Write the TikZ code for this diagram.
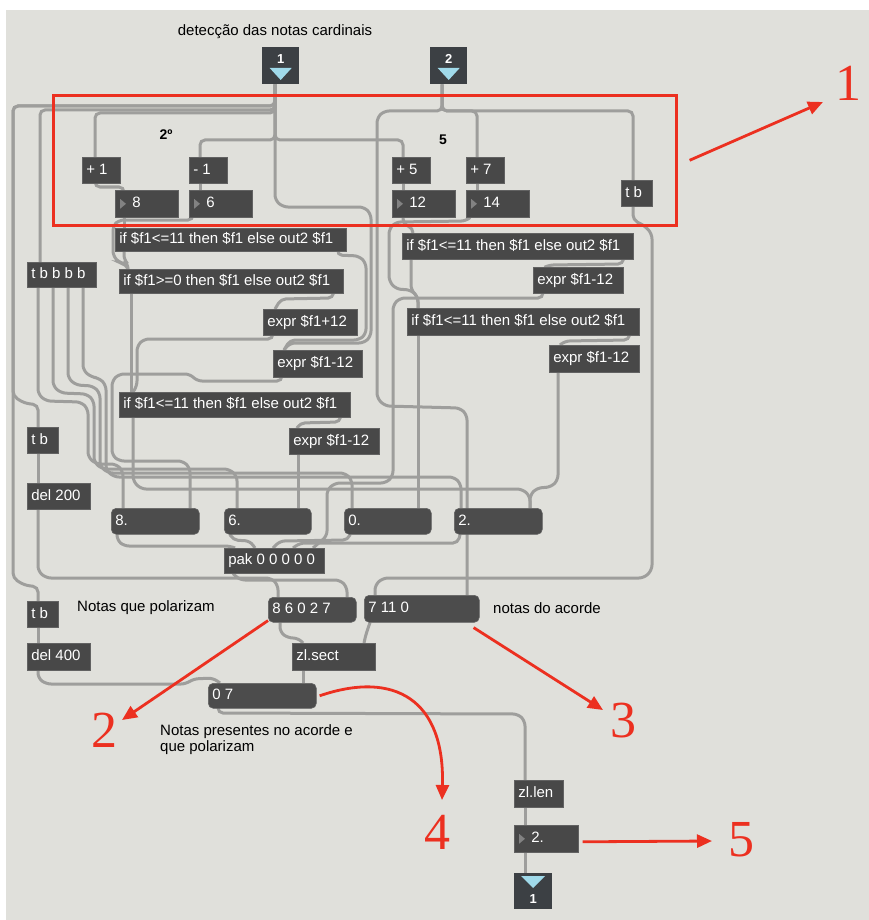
\documentclass[tikz,border=0pt]{standalone}
\usepackage{fontspec}
\setmainfont{Liberation Sans}
\newfontfamily\redserif{Liberation Serif}
\usetikzlibrary{arrows.meta}
\pgfdeclarelayer{back}
\pgfdeclarelayer{wires}
\pgfsetlayers{back,wires,main}
\definecolor{bgc}{RGB}{224,224,219}
\definecolor{cordc}{RGB}{158,158,156}
\definecolor{objc}{RGB}{72,72,72}
\definecolor{msgc}{RGB}{76,76,76}
\definecolor{edgec}{RGB}{98,98,98}
\definecolor{ioc}{RGB}{60,64,68}
\definecolor{redc}{RGB}{236,48,32}
\definecolor{triac}{RGB}{160,218,234}
\definecolor{numtri}{RGB}{130,130,130}
\newcommand\boxfont{\fontsize{15}{17}\selectfont}
\newcommand\lblfont{\fontsize{15}{16.5}\selectfont}
\newcommand\rednumfont{\redserif\fontsize{52}{52}\selectfont}
\tikzset{
  cord/.style={draw=cordc, line width=3pt, rounded corners=5pt},
  objbox/.style={anchor=north west, fill=objc, draw=edgec, line width=0.6pt, text=white,
    font=\boxfont, inner xsep=4pt, inner ysep=0pt, text height=10.5pt, text depth=3pt},
  msgbox/.style={objbox, rounded corners=5pt, fill=msgc},
  numbox/.style={objbox},
  iobox/.style={anchor=north west, fill=ioc, inner sep=0pt},
  iotext/.style={font=\bfseries\fontsize{13}{13}\selectfont, text=white, inner sep=0pt},
  lbl/.style={font=\lblfont, text=black, inner sep=0pt},
  rednum/.style={font=\rednumfont, text=redc, inner sep=0pt},
  redarrow/.style={draw=redc, line width=2.8pt, -{Triangle[length=15pt,width=13pt]}},
}
\newcommand\mxo[7][objbox]{%
  \pgfmathsetmacro\mxw{#5-#3}%
  \pgfmathsetmacro\mxh{#6-#4}%
  \pgfmathsetmacro\mxt{#5-#3-8}%
  \node[#1, minimum width=\mxw pt, minimum height=\mxh pt] (#2) at (#3,#4) {\makebox[\mxt pt][l]{#7}};%
}
\newcommand\mtri[1]{\fill[numtri] ([shift={(5pt,5pt)}]#1.west) -- ([shift={(5pt,-5pt)}]#1.west) -- ([shift={(11pt,0pt)}]#1.west) -- cycle;}
\begin{document}
\begin{tikzpicture}[x=1pt,y=-1pt]
\useasboundingbox (0,0) rectangle (869,920);
\begin{pgfonlayer}{back}
\fill[white] (0,0) rectangle (869,920);
\fill[bgc] (6,10) rectangle (869,920);
\end{pgfonlayer}

% inlets / outlet
\node[iobox, minimum width=37pt, minimum height=37pt] (in1) at (262,47) {};
\node[iotext] (in1n) at ([yshift=-12pt]in1.north) {1};
\fill[triac] ([shift={(-11pt,-21pt)}]in1.north) -- ([shift={(11pt,-21pt)}]in1.north) -- ([shift={(0pt,-33pt)}]in1.north) -- cycle;
\node[iobox, minimum width=37pt, minimum height=37pt] (in2) at (430,47) {};
\node[iotext] (in2n) at ([yshift=-12pt]in2.north) {2};
\fill[triac] ([shift={(-11pt,-21pt)}]in2.north) -- ([shift={(11pt,-21pt)}]in2.north) -- ([shift={(0pt,-33pt)}]in2.north) -- cycle;
\node[iobox, minimum width=38pt, minimum height=36pt] (out1) at (514,873) {};
\fill[triac] ([shift={(-12pt,-3pt)}]out1.north) -- ([shift={(12pt,-3pt)}]out1.north) -- ([shift={(0pt,-15pt)}]out1.north) -- cycle;
\node[iotext] (out1n) at ([yshift=-26pt]out1.north) {1};

% objects
\mxo{plus1}{82}{157}{120}{183}{+ 1}
\mxo{minus1}{189}{157}{227}{183}{- 1}
\mxo{plus5}{392}{157}{430}{183}{+ 5}
\mxo{plus7}{466}{157}{504}{183}{+ 7}
\mxo{tbR}{621}{180}{652}{206}{t b}
\mxo[numbox]{n8}{115}{190}{178}{217}{\hspace*{13pt}8}
\mxo[numbox]{n6}{189}{190}{252}{217}{\hspace*{13pt}6}
\mxo[numbox]{n12}{392}{190}{455}{217}{\hspace*{13pt}12}
\mxo[numbox]{n14}{466}{190}{529}{217}{\hspace*{13pt}14}
\mxo{ifA}{115}{228}{346}{251}{if \$f1<=11 then \$f1 else out2 \$f1}
\mxo{ifB}{119}{269}{343}{293}{if \$f1>=0 then \$f1 else out2 \$f1}
\mxo{tbbbb}{27}{262}{96}{287}{t b b b b}
\mxo{ifC}{402}{233}{633}{259}{if \$f1<=11 then \$f1 else out2 \$f1}
\mxo{exprC}{533}{267}{623}{293}{expr \$f1-12}
\mxo{ifD}{407}{308}{639}{335}{if \$f1<=11 then \$f1 else out2 \$f1}
\mxo{exprD}{549}{345}{639}{372}{expr \$f1-12}
\mxo{exprP}{263}{309}{357}{335}{expr \$f1+12}
\mxo{exprA}{273}{350}{362}{377}{expr \$f1-12}
\mxo{ifE}{119}{392}{350}{417}{if \$f1<=11 then \$f1 else out2 \$f1}
\mxo{exprB}{289}{428}{379}{454}{expr \$f1-12}
\mxo{tbL1}{27}{427}{58}{453}{t b}
\mxo{del200}{27}{483}{90}{509}{del 200}
\mxo[msgbox]{m8}{111}{508}{199}{534}{8.}
\mxo[msgbox]{m6}{224}{508}{311}{534}{6.}
\mxo[msgbox]{m0}{344}{508}{431}{534}{0.}
\mxo[msgbox]{m2}{454}{508}{542}{534}{2.}
\mxo{pak}{224}{548}{324}{573}{pak 0 0 0 0 0}
\mxo{tbL2}{27}{601}{58}{627}{t b}
\mxo{del400}{27}{643}{90}{670}{del 400}
\mxo[msgbox]{msgA}{268}{597}{356}{622}{8 6 0 2 7}
\mxo[msgbox]{msgB}{364}{595}{479}{622}{7 11 0}
\mxo{zlsect}{292}{643}{375}{670}{zl.sect}
\mxo[msgbox]{m07}{208}{683}{316}{708}{0 7}
\mxo{zllen}{514}{780}{563}{807}{zl.len}
\mxo[numbox]{n2}{514}{825}{578}{852}{\hspace*{13pt}2.}
\mtri{n8}\mtri{n6}\mtri{n12}\mtri{n14}\mtri{n2}

\begin{pgfonlayer}{wires}
% from inlet 1
\draw[cord] ([xshift=13pt]in1.south west) -- (275,106) -- (13,106) -- (13,396) -- (24,403) -- (38,405) -- ([xshift=11pt]tbL1.north west);
\draw[cord] ([xshift=13pt]in1.south west) -- (275,106) -- (13,106) -- (13,578) -- (24,585) -- (38,587) -- ([xshift=11pt]tbL2.north west);
\draw[cord] ([xshift=13pt]in1.south west) -- (275,110) -- (40,110) -- ([xshift=13pt]tbbbb.north west);
\draw[cord] ([xshift=13pt]in1.south west) -- (275,113) -- (95,113) -- ([xshift=13pt]plus1.north west);
\draw[cord] ([xshift=13pt]in1.south west) -- (275,140) -- (200,140) -- ([xshift=11pt]minus1.north west);
\draw[cord] ([xshift=13pt]in1.south west) -- (275,140) -- (403,140) -- ([xshift=11pt]plus5.north west);
\draw[cord] ([xshift=13pt]in1.south west) -- (275,200) -- (283,207) -- (364,207) -- (371,214) -- (371,336) -- (364,343) -- (290,343) -- ([xshift=11pt]exprA.north west);
% from inlet 2
\draw[cord] ([xshift=12pt]in2.south west) -- (442,111) -- (477,111) -- ([xshift=11pt]plus7.north west);
\draw[cord] ([xshift=12pt]in2.south west) -- (442,111) -- (633,111) -- ([xshift=12pt]tbR.north west);
\draw[cord] ([xshift=12pt]in2.south west) -- (442,111) -- (384,111) -- (377,118) -- (377,398) -- (385,406) -- (460,408) -- (467,415) -- ([xshift=103pt]msgB.north west);
\draw[cord] ([xshift=12pt]tbR.south west) -- (633,220) -- (645,226) -- (652,234) -- (652,570) -- (644,578) -- (383,578) -- (375,585) -- ([xshift=11pt]msgB.north west);
% adders to number boxes
\draw[cord] ([xshift=13pt]plus1.south west) -- (95,187) -- (124,187) -- ([xshift=9pt]n8.north west);
\draw[cord] ([xshift=11pt]minus1.south west) -- ([xshift=11pt]n6.north west);
\draw[cord] ([xshift=11pt]plus5.south west) -- ([xshift=11pt]n12.north west);
\draw[cord] ([xshift=11pt]plus7.south west) -- ([xshift=11pt]n14.north west);
% left chains
\draw[cord] ([xshift=9pt]n8.south west) -- ([xshift=9pt]ifA.north west);
\draw[cord] ([xshift=4pt]n6.south west) -- (193,220) -- (119,220) -- (113,226) -- (113,256) -- (120,263) -- (126,264) -- ([xshift=9pt]ifB.north west);
\draw[cord] ([xshift=9pt]ifA.south west) -- (124,260) -- (128,264) -- ([xshift=9pt]ifB.north west);
\draw[cord] ([xshift=-9pt]ifA.south east) -- (337,255) -- (359,256) -- (366,263) -- (366,334) -- (359,340) -- (290,340) -- ([xshift=11pt]exprA.north west);
\draw[cord] ([xshift=-10pt]ifB.south east) -- (333,298) -- (281,299) -- ([xshift=12pt]exprP.north west);
\draw[cord] ([xshift=12pt]ifB.south west) -- ([xshift=12pt]ifE.north west);
\draw[cord] ([xshift=10pt]exprP.south west) -- (273,339) -- (144,339) -- (137,346) -- (137,386) -- ([xshift=14pt]ifE.north west);
\draw[cord] ([xshift=9pt]exprA.south west) -- (282,381) -- (197,381) -- (190,374) -- (119,374) -- (112,381) -- (112,455) -- (119,461) -- (183,461) -- (190,468) -- ([xshift=79pt]m8.north west);
\draw[cord] ([xshift=-10pt]ifE.south east) -- (340,422) -- (300,423) -- ([xshift=8pt]exprB.north west);
\draw[cord] ([xshift=14pt]ifE.south west) -- (133,481) -- (141,489) -- (522,489) -- (530,496) -- ([xshift=76pt]m2.north west);
\draw[cord] ([xshift=9pt]exprB.south west) -- ([xshift=74pt]m6.north west);
% right chains
\draw[cord] ([xshift=11pt]n12.south west) -- (403,224) -- (413,228) -- ([xshift=11pt]ifC.north west);
\draw[cord] ([xshift=4pt]n14.south west) -- (466,221) -- (396,222) -- (389,229) -- (389,281) -- (396,289) -- (411,290) -- (418,297) -- ([xshift=11pt]ifD.north west);
\draw[cord] ([xshift=9pt]ifC.south west) -- (411,290) -- (418,297) -- ([xshift=11pt]ifD.north west);
\draw[cord] ([xshift=-10pt]ifC.south east) -- (623,264) -- (549,265) -- ([xshift=12pt]exprC.north west);
\draw[cord] ([xshift=10pt]exprC.south west) -- (543,298) -- (400,298) -- (393,305) -- (393,476) -- (386,483) -- (335,483) -- (327,490) -- (327,536) -- (320,542) -- ([xshift=89pt]pak.north west);
\draw[cord] ([xshift=11pt]ifD.south west) -- ([xshift=74pt]m0.north west);
\draw[cord] ([xshift=-10pt]ifD.south east) -- (629,340) -- (565,341) -- ([xshift=11pt]exprD.north west);
\draw[cord] ([xshift=9pt]exprD.south west) -- (558,480) -- (551,487) -- (537,488) -- (530,495) -- ([xshift=76pt]m2.north west);
% trigger to message boxes
\draw[cord] ([xshift=11pt]tbbbb.south west) -- (38,394) -- (46,401) -- (81,402) -- (88,409) -- (88,457) -- (96,464) -- (116,464) -- (123,471) -- ([xshift=12pt]m8.north west);
\draw[cord] ([xshift=26pt]tbbbb.south west) -- (53,386) -- (61,393) -- (87,394) -- (94,401) -- (94,462) -- (102,469) -- (229,469) -- (237,476) -- ([xshift=13pt]m6.north west);
\draw[cord] ([xshift=41pt]tbbbb.south west) -- (68,378) -- (76,385) -- (93,386) -- (100,393) -- (100,466) -- (108,473) -- (345,473) -- (352,480) -- ([xshift=8pt]m0.north west);
\draw[cord] ([xshift=56pt]tbbbb.south west) -- (83,370) -- (91,377) -- (99,378) -- (106,385) -- (106,470) -- (114,477) -- (454,477) -- (461,484) -- ([xshift=7pt]m2.north west);
% message boxes to pak
\draw[cord] ([xshift=6pt]m8.south west) -- (117,540) -- (124,546) -- (230,546) -- ([xshift=11pt]pak.north west);
\draw[cord] ([xshift=6pt]m6.south west) -- (233,540) -- (250,541) -- ([xshift=31pt]pak.north west);
\draw[cord] ([xshift=6pt]m0.south west) -- (348,540) -- (280,541) -- ([xshift=49pt]pak.north west);
\draw[cord] ([xshift=6pt]m2.south west) -- (458,543) -- (300,543) -- ([xshift=69pt]pak.north west);
% lower part
\draw[cord] ([xshift=11pt]tbL1.south west) -- ([xshift=11pt]del200.north west);
\draw[cord] ([xshift=11pt]del200.south west) -- (38,571) -- (46,578) -- (271,578) -- (278,585) -- ([xshift=10pt]msgA.north west);
\draw[cord] ([xshift=9pt]pak.south west) -- (240,580) -- (340,580) -- (347,587) -- ([xshift=79pt]msgA.north west);
\draw[cord] ([xshift=12pt]msgA.south west) -- (280,632) -- (288,638) -- (298,638) -- ([xshift=11pt]zlsect.north west);
\draw[cord] ([xshift=6pt]msgB.south west) -- (366,634) -- ([xshift=72pt]zlsect.north west);
\draw[cord] ([xshift=11pt]zlsect.south west) -- ([xshift=95pt]m07.north west);
\draw[cord] ([xshift=11pt]tbL2.south west) -- ([xshift=11pt]del400.north west);
\draw[cord] ([xshift=11pt]del400.south west) -- (38,678) -- (46,684) -- (186,684) -- (193,679) -- (213,678) -- ([xshift=12pt]m07.north west);
\draw[cord] ([xshift=10pt]m07.south west) -- (218,713) -- (518,714) -- (525,721) -- ([xshift=11pt]zllen.north west);
\draw[cord] ([xshift=11pt]zllen.south west) -- ([xshift=11pt]n2.north west);
\draw[cord] ([xshift=11pt]n2.south west) -- ([xshift=11pt]out1.north west);
\end{pgfonlayer}

% labels
\node[lbl] (ttl) at (275,32) {detecção das notas cardinais};
\node[lbl, font=\bfseries\fontsize{14}{16}\selectfont] (lab2o) at (166,135) {2º};
\node[lbl, font=\bfseries\fontsize{14}{16}\selectfont] (lab5) at (443,140) {5};
\node[lbl, anchor=west] (lnp) at (77,608) {Notas que polarizam};
\node[lbl, anchor=west] (lna) at (493,608) {notas do acorde};
\node[lbl, anchor=north west, align=left] (lpres) at (160,724) {Notas presentes no acorde e\\que polarizam};

% red annotations
\node[draw=redc, line width=2.6pt, minimum width=623pt, minimum height=130pt, anchor=north west, inner sep=0pt] (redbox) at (52,94) {};
\node[rednum] (r1) at (848,83) {1};
\node[rednum] (r2) at (104,730) {2};
\node[rednum] (r3) at (623,721) {3};
\node[rednum] (r4) at (437,832) {4};
\node[rednum] (r5) at (741,840) {5};
\coordinate (a1e) at (823,102);
\coordinate (a2e) at (122,720);
\coordinate (a3e) at (603,710);
\coordinate (a4e) at (442,800);
\coordinate (a5e) at (712,841);
\draw[redarrow] ([xshift=12pt]redbox.east) -- (a1e);
\draw[redarrow] ([yshift=2pt]msgA.south west) -- (a2e);
\draw[redarrow] ([shift={(-6pt,-5pt)}]msgB.south east) -- (a3e);
\draw[redarrow] ([xshift=3pt]m07.east) .. controls (395,670) and (445,700) .. (a4e);
\draw[redarrow] ([shift={(4pt,-3pt)}]n2.east) -- (a5e);
\end{tikzpicture}
\end{document}
